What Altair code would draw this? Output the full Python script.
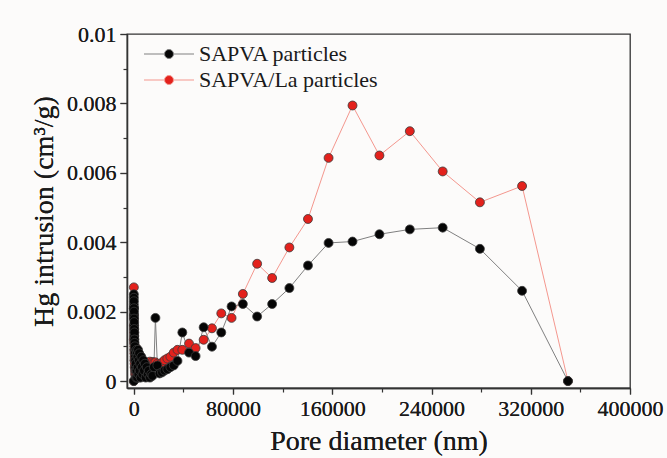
import altair as alt
import pandas as pd

# Pore diameters (nm) of the intrusion steps, shared by both samples
diameter = [5, 10, 20, 30, 50, 70, 100, 130, 160, 200,
            250, 300, 350, 400, 450, 500, 600, 700, 800, 900,
            1000, 1150, 1300, 1500, 1700, 1900,
            2100, 2300, 2500, 2700, 2900, 3100, 3400, 3700, 4000, 4300,
            4700, 5100, 5500, 6000, 6500, 7000, 7600, 8200, 8900, 9600,
            10400, 11200, 12100, 13000, 14000, 15000, 16200,
            17400, 19000, 20800, 22700, 24700, 27000, 29500, 32200, 35200,
            39100, 44500, 49800, 56300, 63000, 70500, 78800, 87900, 99400, 111500,
            125400, 140400, 157000, 176300, 198000, 222500, 249000, 279000, 313000, 350000]

# Hg intrusion (cm3/g)
sapva = [0.0, 0.0021, 0.0025, 0.0024, 0.0022, 0.0023, 0.0021, 0.0019, 0.002, 0.0018,
         0.0016, 0.0017, 0.0015, 0.0013, 0.0014, 0.0012, 0.0011, 0.0009, 0.001, 0.0008,
         0.0007, 0.0006, 0.0004, 0.0005, 0.0003, 0.0001,
         0.0009, 0.0003, 0.0008, 0.0001, 0.0007, 0.0004, 0.0009, 0.0002, 0.0006, 0.0008,
         0.0003, 0.0005, 0.0001, 0.0007, 0.0004, 0.0002, 0.0006, 0.0003, 0.0005, 0.0001,
         0.0004, 0.0002, 0.0003, 0.0001, 0.0002, 0.00015, 0.0004,
         0.00182, 0.00045, 0.00022, 0.00025, 0.0003, 0.00034, 0.0004, 0.00045, 0.00058,
         0.0014, 0.00082, 0.00072, 0.00155, 0.00099, 0.0014, 0.00215, 0.00222, 0.00186, 0.00222,
         0.00268, 0.00333, 0.00398, 0.00402, 0.00423, 0.00437, 0.00442, 0.00381, 0.0026, 0.0]

sapva_la = [0.0, 0.0012, 0.0027, 0.0021, 0.0019, 0.0016, 0.0018, 0.0014, 0.0015, 0.0011,
            0.0013, 0.0009, 0.001, 0.0008, 0.0006, 0.0007, 0.0005, 0.0004, 0.0006, 0.0003,
            0.0002, 0.0004, 0.0001, 0.0003, 0.0002, 0.0001,
            0.00095, 0.0004, 0.0007, 0.0002, 0.0005, 0.0008, 0.0003, 0.0006, 0.0001, 0.0004,
            0.0007, 0.0002, 0.0005, 0.0003, 0.0006, 0.0002, 0.0004, 0.0005, 0.00035, 0.0005,
            0.00054, 0.0004, 0.00052, 0.00056, 0.0005, 0.00055, 0.00053,
            0.00054, 0.0005, 0.00046, 0.00053, 0.0006, 0.00065, 0.0007, 0.00082, 0.0009,
            0.0009, 0.00108, 0.00095, 0.00119, 0.00152, 0.00195, 0.00182, 0.00251, 0.00338, 0.00297,
            0.00385, 0.00467, 0.00643, 0.00794, 0.0065, 0.0072, 0.00604, 0.00515, 0.00562, 0.0]

series_names = ["SAPVA particles", "SAPVA/La particles"]
line_colors = ["#808080", "#f4978e"]
marker_colors = ["#050505", "#e3211c"]

x_major = [0, 80000, 160000, 240000, 320000, 400000]
x_minor = [40000, 120000, 200000, 280000, 360000]
y_major = [0, 0.002, 0.004, 0.006, 0.008, 0.01]
y_minor = [0.001, 0.003, 0.005, 0.007, 0.009]

# red rows first so the black markers sit on top
df = pd.concat([
    pd.DataFrame({"d": diameter, "v": sapva_la, "series": series_names[1], "k": 0}),
    pd.DataFrame({"d": diameter, "v": sapva, "series": series_names[0], "k": 1}),
], ignore_index=True)

FONT = "Liberation Serif"
INK = "#1a1a1a"
AX = "#333333"

x_scale = alt.Scale(domain=[-5500, 400000], nice=False, zero=False)
y_scale = alt.Scale(domain=[-0.0002, 0.01], nice=False, zero=False)

# legend glyph: a short line with a marker in its middle
legend_path = ("M-5,0H-0.9M0.9,0H5"
               "M-0.9,0A0.9,0.9,0,1,1,0.9,0A0.9,0.9,0,1,1,-0.9,0Z")

legend = alt.Legend(title=None, orient="none", legendX=31, legendY=9,
                    symbolType=legend_path, symbolSize=100, symbolStrokeWidth=1,
                    labelFont=FONT, labelFontSize=22, labelColor=INK, labelLimit=400,
                    labelOffset=19, rowPadding=4, padding=0)

x_axis = alt.Axis(values=x_major, format="d", title="Pore diameter (nm)", orient="bottom",
                  labelFont=FONT, labelFontSize=22, labelColor=INK, labelPadding=4,
                  titleFont=FONT, titleFontSize=28, titleFontWeight="normal",
                  titleColor=INK, titlePadding=8,
                  tickSize=6, tickColor=AX, tickWidth=1.2,
                  domainColor=AX, domainWidth=1.3, grid=False, labelFlush=False)

y_axis = alt.Axis(values=y_major, title="Hg intrusion (cm³/g)", orient="left",
                  labelExpr="format(datum.value, '~g')",
                  labelFont=FONT, labelFontSize=22, labelColor=INK, labelPadding=4,
                  titleFont=FONT, titleFontSize=28, titleFontWeight="normal",
                  titleColor=INK, titlePadding=8,
                  tickSize=7, tickColor=AX, tickWidth=1.2,
                  domainColor=AX, domainWidth=1.3, grid=False, labelFlush=False)

base = alt.Chart(df)

lines = base.mark_line(strokeWidth=1, interpolate="linear").encode(
    x=alt.X("d:Q", scale=x_scale, axis=x_axis),
    y=alt.Y("v:Q", scale=y_scale, axis=y_axis),
    stroke=alt.Stroke("series:N", scale=alt.Scale(domain=series_names, range=line_colors),
                      legend=legend),
    detail="series:N",
)

points = base.mark_circle(size=80, opacity=1, stroke="#3a3a3a", strokeWidth=0.8).encode(
    x=alt.X("d:Q", scale=x_scale, axis=x_axis),
    y=alt.Y("v:Q", scale=y_scale, axis=y_axis),
    fill=alt.Fill("series:N", scale=alt.Scale(domain=series_names, range=marker_colors),
                  legend=legend),
    order=alt.Order("k:Q"),
)

# unlabeled minor ticks between the major ones
minor = base.mark_point(opacity=0).encode(
    x=alt.X("d:Q", scale=x_scale,
            axis=alt.Axis(values=x_minor, labels=False, title=None, orient="bottom",
                          tickSize=4, tickColor=AX, tickWidth=1.2, domain=False, grid=False)),
    y=alt.Y("v:Q", scale=y_scale,
            axis=alt.Axis(values=y_minor, labels=False, title=None, orient="left",
                          tickSize=4, tickColor=AX, tickWidth=1.2, domain=False, grid=False)),
)

chart = alt.layer(lines, points, minor).resolve_axis(
    x="independent", y="independent"
).properties(
    width=503, height=354,
    padding={"left": 127, "top": 34, "right": 37, "bottom": 70},
    autosize=alt.AutoSizeParams(type="none"),
    background="#fcfbfa",
).configure_view(stroke=AX, strokeWidth=1.3)

chart.save("out.html", embed_options={"renderer": "svg", "actions": False})
